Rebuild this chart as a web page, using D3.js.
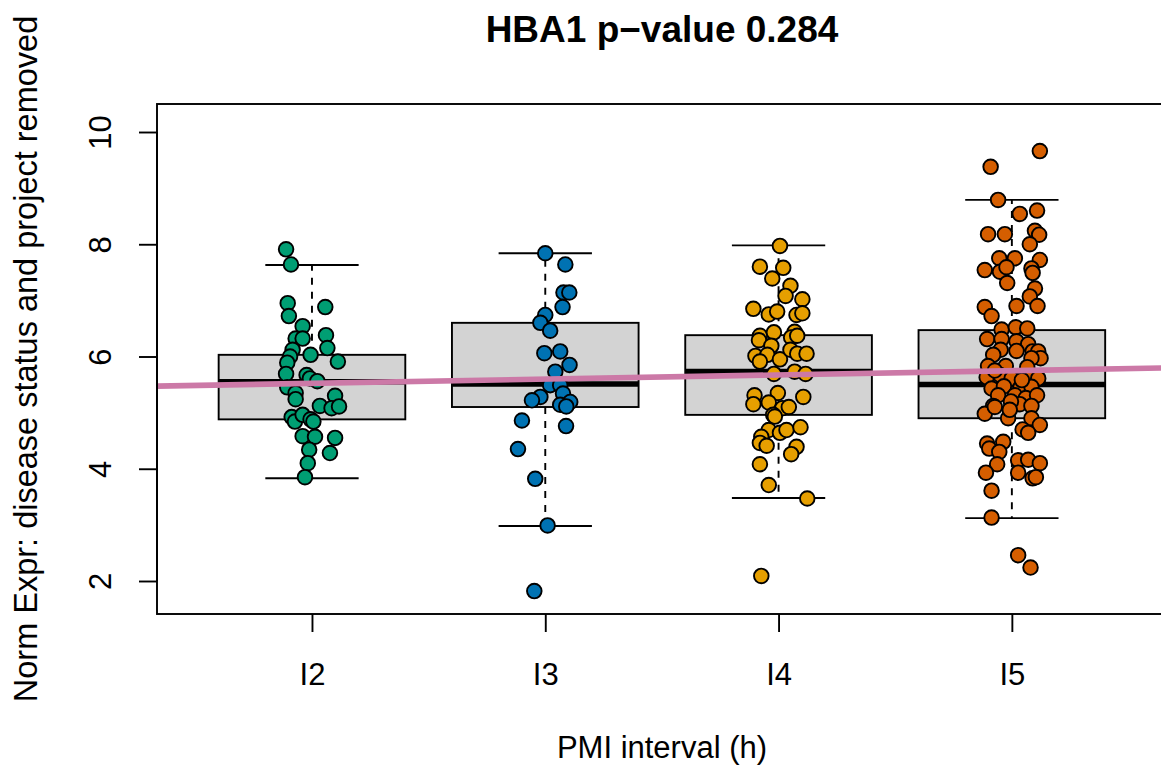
<!DOCTYPE html>
<html><head><meta charset="utf-8">
<script src="https://cdn.jsdelivr.net/npm/d3@7"></script>
<style>body{margin:0;background:#fff} text{font-family:"Liberation Sans",Arial,Helvetica,sans-serif;fill:#000}</style>
</head><body><svg id="c" width="1161" height="772"></svg>
<script>
// ---------------- DATA ----------------
const categories = ["I2", "I3", "I4", "I5"];
const pointColors = ["#009E73", "#0072B2", "#E69F00", "#D55E00"];
const yTicks = [2, 4, 6, 8, 10];
const titleText = "HBA1 p\u2212value 0.284";
const xLabel = "PMI interval (h)";
const yLabel = "Norm Expr: disease status and project removed";

// box statistics per category
const whiskerLow  = [3.83, 2.98, 3.48, 3.12];
const lowerHinge  = [4.88, 5.10, 4.96, 4.90];
const medians     = [5.55, 5.51, 5.73, 5.50];
const upperHinge  = [6.03, 6.60, 6.38, 6.47];
const whiskerHigh = [7.63, 7.84, 7.98, 8.79];

// regression line (intercept, slope on category index)
const fitIntercept = 5.447;
const fitSlope = 0.075;

// jittered points: values and jitter offsets (category units)
const valuesI2 = [7.91,7.64,6.95,6.72,6.88,6.54,6.38,6.32,6.32,6.15,6.12,6.03,6.00,5.89,5.91,5.69,5.67,5.61,5.56,5.45,5.35,5.24,5.30,5.12,5.08,5.11,4.92,4.84,4.96,4.88,4.84,4.58,4.57,4.55,4.34,4.28,4.10,3.85];
const jitterI2 = [-0.111,-0.090,-0.104,-0.099,0.057,-0.040,0.060,-0.070,-0.040,0.066,-0.083,-0.006,-0.094,-0.106,0.111,-0.111,-0.023,-0.009,0.023,-0.106,-0.070,-0.070,0.099,0.034,0.084,0.116,-0.087,-0.073,-0.040,-0.006,0.006,-0.040,0.013,0.099,-0.012,0.077,-0.018,-0.030];

const valuesI3 = [7.84,7.64,7.14,7.14,6.88,6.74,6.60,6.46,6.06,6.09,5.85,5.73,5.49,5.49,5.34,5.28,5.22,5.19,5.14,5.11,4.86,4.76,4.35,3.82,2.99,1.82];
const jitterI3 = [0.000,0.086,0.078,0.103,0.074,0.000,-0.021,0.021,-0.004,0.064,0.104,0.043,0.021,0.064,0.076,-0.021,-0.057,0.107,0.064,0.090,-0.100,0.089,-0.117,-0.043,0.010,-0.047];

const valuesI4 = [7.97,7.60,7.58,7.39,7.26,7.08,7.02,6.85,6.75,6.80,6.74,6.77,6.37,6.43,6.44,6.34,6.37,6.29,6.19,6.01,6.03,5.91,5.95,6.12,6.05,6.05,5.69,5.73,5.69,5.31,5.15,5.35,5.18,5.28,5.08,5.10,4.96,4.93,4.69,4.64,4.69,4.74,4.57,4.46,4.41,4.39,4.26,4.08,3.71,3.47,2.09];
const jitterI4 = [0.006,-0.080,0.020,-0.027,0.051,0.030,0.102,-0.108,-0.042,-0.006,0.077,0.102,-0.080,-0.020,0.069,0.054,0.080,-0.084,-0.031,-0.099,-0.048,-0.080,0.006,0.051,0.080,0.120,-0.020,0.069,0.116,-0.103,-0.108,-0.003,-0.042,0.106,0.016,0.044,-0.023,-0.016,-0.042,0.006,0.034,0.094,-0.074,-0.080,-0.051,0.077,0.054,-0.080,-0.042,0.123,-0.074];

const valuesI5 = [9.66,9.38,8.79,8.54,8.60,8.18,8.18,8.24,8.17,8.00,7.75,7.75,7.72,7.54,7.51,7.59,7.57,7.49,7.31,7.21,7.07,6.90,6.90,6.88,6.72,6.48,6.52,6.50,6.31,6.31,6.27,6.22,6.12,6.10,6.09,6.09,6.03,5.97,5.97,5.83,5.83,5.81,5.63,5.67,5.61,5.65,5.61,5.43,5.47,5.45,5.46,5.31,5.31,5.26,5.31,5.12,5.15,5.12,4.98,5.10,4.90,4.90,4.78,4.70,4.64,4.45,4.36,4.48,4.30,4.08,3.93,4.15,4.16,4.10,3.93,3.83,3.85,3.61,3.13,2.46,2.24,5.20,5.05,5.58,5.75];
const jitterI5 = [0.120,-0.091,-0.059,0.034,0.108,-0.102,-0.030,0.099,0.117,0.077,-0.054,0.013,0.120,-0.116,-0.051,-0.023,0.084,0.089,-0.020,0.099,0.077,0.020,0.110,-0.116,-0.087,-0.044,0.017,0.066,-0.106,-0.044,0.020,0.070,-0.048,0.020,0.089,0.113,-0.080,0.123,0.084,-0.102,-0.026,0.066,-0.108,-0.051,-0.001,0.066,0.113,-0.087,-0.034,0.037,0.084,-0.059,0.013,0.060,0.108,-0.080,0.034,0.084,-0.116,-0.073,-0.016,0.084,0.120,0.046,0.070,-0.106,-0.097,-0.037,-0.054,-0.063,-0.111,0.027,0.070,0.120,0.027,0.089,0.103,-0.087,-0.087,0.027,0.080,-0.004,-0.009,0.043,-0.073];

const groupValues = [valuesI2, valuesI3, valuesI4, valuesI5];
const groupJitter = [jitterI2, jitterI3, jitterI4, jitterI5];

// ---------------- LAYOUT ----------------
const W = 1161, H = 772;
const plot = {left: 157, right: 1167, top: 104, bottom: 614};
const x = d3.scaleLinear().domain([0.3357, 4.665]).range([plot.left, plot.right]);
const y = d3.scaleLinear().domain([1.412, 10.499]).range([plot.bottom, plot.top]);
const boxHalf = 0.4, capHalf = 0.2;
const lw = 1.9;
const baseFont = 31;

const svg = d3.select("#c");
svg.append("rect").attr("width", W).attr("height", H).attr("fill", "#fff");
svg.append("clipPath").attr("id", "clip").append("rect")
  .attr("x", plot.left).attr("y", plot.top)
  .attr("width", plot.right - plot.left).attr("height", plot.bottom - plot.top);

const gPlot = svg.append("g");

// boxes
categories.forEach((c, i) => {
  const cx = i + 1;
  const g = gPlot.append("g");
  g.append("line").attr("x1", x(cx)).attr("x2", x(cx))
    .attr("y1", y(upperHinge[i])).attr("y2", y(whiskerHigh[i]))
    .attr("stroke", "#000").attr("stroke-width", lw).attr("stroke-dasharray", "7,7");
  g.append("line").attr("x1", x(cx)).attr("x2", x(cx))
    .attr("y1", y(lowerHinge[i])).attr("y2", y(whiskerLow[i]))
    .attr("stroke", "#000").attr("stroke-width", lw).attr("stroke-dasharray", "7,7");
  [whiskerHigh[i], whiskerLow[i]].forEach(v => {
    g.append("line").attr("x1", x(cx - capHalf)).attr("x2", x(cx + capHalf))
      .attr("y1", y(v)).attr("y2", y(v))
      .attr("stroke", "#000").attr("stroke-width", lw);
  });
  g.append("rect").attr("x", x(cx - boxHalf)).attr("y", y(upperHinge[i]))
    .attr("width", x(cx + boxHalf) - x(cx - boxHalf))
    .attr("height", y(lowerHinge[i]) - y(upperHinge[i]))
    .attr("fill", "#D3D3D3").attr("stroke", "#000").attr("stroke-width", lw);
  g.append("line").attr("x1", x(cx - boxHalf)).attr("x2", x(cx + boxHalf))
    .attr("y1", y(medians[i])).attr("y2", y(medians[i]))
    .attr("stroke", "#000").attr("stroke-width", 5.6);
});

// points
categories.forEach((c, i) => {
  const pts = groupValues[i].map((v, k) => ({v, j: groupJitter[i][k]}));
  gPlot.append("g").selectAll("circle").data(pts).join("circle")
    .attr("cx", d => x(i + 1 + d.j)).attr("cy", d => y(d.v)).attr("r", 7.3)
    .attr("fill", pointColors[i]).attr("stroke", "#000").attr("stroke-width", 1.9);
});

// regression line
const xd = x.domain();
svg.append("line").attr("clip-path", "url(#clip)")
  .attr("x1", x(xd[0])).attr("x2", x(xd[1]))
  .attr("y1", y(fitIntercept + fitSlope * xd[0])).attr("y2", y(fitIntercept + fitSlope * xd[1]))
  .attr("stroke", "#CC79A7").attr("stroke-width", 5.6);

// plot border
svg.append("rect").attr("x", plot.left).attr("y", plot.top)
  .attr("width", plot.right - plot.left).attr("height", plot.bottom - plot.top)
  .attr("fill", "none").attr("stroke", "#000").attr("stroke-width", lw);

// x axis
const xAxis = d3.axisBottom(x).tickValues([1, 2, 3, 4])
  .tickFormat((d, k) => categories[k]).tickSize(18).tickPadding(0);
const gx = svg.append("g").attr("transform", `translate(0,${plot.bottom})`).call(xAxis);
gx.select(".domain").remove();
gx.selectAll(".tick line").attr("stroke", "#000").attr("stroke-width", lw);
gx.selectAll(".tick text").attr("font-size", baseFont).attr("dy", null).attr("y", 71)
  .attr("font-family", "'Liberation Sans', Arial, sans-serif");

// y axis
const yAxis = d3.axisLeft(y).tickValues(yTicks).tickSize(18).tickFormat(d3.format("d"));
const gy = svg.append("g").attr("transform", `translate(${plot.left},0)`).call(yAxis);
gy.select(".domain").attr("d", `M0,${y(yTicks[0])}V${y(yTicks[yTicks.length-1])}`)
  .attr("stroke", "#000").attr("stroke-width", lw);
gy.selectAll(".tick line").attr("stroke", "#000").attr("stroke-width", lw);
gy.selectAll(".tick text").attr("font-size", baseFont).attr("x", null).attr("dy", null)
  .attr("text-anchor", "middle")
  .attr("transform", "translate(-46,0) rotate(-90)")
  .attr("font-family", "'Liberation Sans', Arial, sans-serif");

// titles
const cxPlot = (plot.left + plot.right) / 2;
svg.append("text").attr("x", cxPlot).attr("y", 42).attr("text-anchor", "middle")
  .attr("font-size", 37).attr("font-weight", "bold").text(titleText);
svg.append("text").attr("x", cxPlot).attr("y", 758).attr("text-anchor", "middle")
  .attr("font-size", baseFont).text(xLabel);
svg.append("text").attr("transform", `translate(37,${(plot.top + plot.bottom) / 2}) rotate(-90)`)
  .attr("text-anchor", "middle").attr("font-size", 32.5).text(yLabel);
</script></body></html>
